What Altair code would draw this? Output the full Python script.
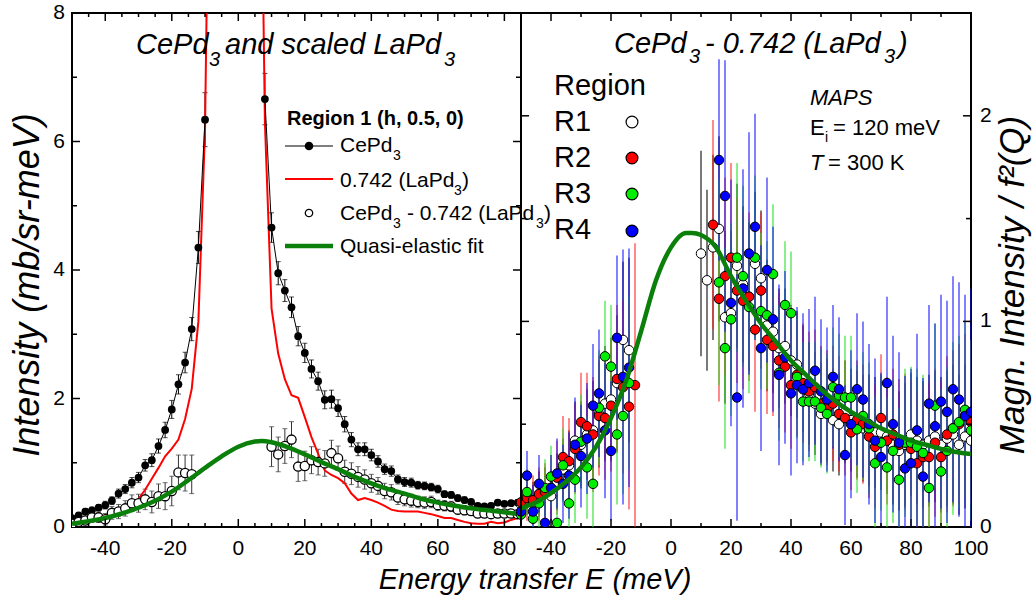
import altair as alt
import pandas as pd

FONT = "Liberation Sans"
W_LEFT, W, H = 449, 899, 514

# ---------------- left panel: CePd3 and scaled LaPd3 ----------------
CE_X_LEFT = list(range(-50, -9, 2))
CE_Y_LEFT = [0.14, 0.18, 0.24, 0.26, 0.30, 0.34, 0.41, 0.52, 0.59, 0.69, 0.77,
             0.96, 1.04, 1.26, 1.51, 1.83, 2.22, 2.56, 3.08, 4.35, 6.34]
CE_E_LEFT = [0.04, 0.04, 0.05, 0.05, 0.05, 0.06, 0.06, 0.07, 0.07, 0.08, 0.08,
             0.09, 0.10, 0.11, 0.12, 0.14, 0.15, 0.16, 0.18, 0.25, 0.42]
CE_X_RIGHT = list(range(8, 85, 2))
CE_Y_RIGHT = [6.66, 4.66, 3.95, 3.68, 3.42, 2.97, 2.71, 2.46, 2.27, 1.98, 1.99, 1.85, 1.60,
              1.36, 1.21, 1.21, 1.12, 1.02, 0.90, 0.87, 0.74, 0.70, 0.69, 0.65, 0.64, 0.62,
              0.59, 0.51, 0.50, 0.45, 0.42, 0.39, 0.33, 0.32, 0.33, 0.38, 0.36, 0.37, 0.38]
CE_E_RIGHT = [0.40, 0.23, 0.18, 0.17, 0.16, 0.15, 0.15, 0.14, 0.14, 0.14, 0.14, 0.13, 0.12,
              0.11, 0.10, 0.10, 0.09, 0.09, 0.08, 0.08, 0.07, 0.07, 0.07, 0.06, 0.06, 0.06,
              0.06, 0.05, 0.05, 0.05, 0.05, 0.04, 0.04, 0.04, 0.04, 0.04, 0.04, 0.04, 0.04]

SUB_X_LEFT = list(range(-50, -13, 2))
SUB_Y_LEFT = [0.05, 0.08, 0.10, 0.15, 0.15, 0.12, 0.22, 0.24, 0.29, 0.37, 0.37, 0.43, 0.39,
              0.48, 0.48, 0.56, 0.85, 0.84, 0.82]
SUB_E_LEFT = [0.05, 0.05, 0.06, 0.07, 0.08, 0.09, 0.10, 0.11, 0.12, 0.13, 0.14, 0.16, 0.17,
              0.19, 0.21, 0.23, 0.27, 0.28, 0.30]
SUB_X_RIGHT = list(range(10, 85, 2))
SUB_Y_RIGHT = [1.25, 1.13, 1.26, 1.36, 0.94, 0.95, 1.04, 1.01, 0.99, 1.15, 1.07, 0.86, 0.83,
               0.78, 0.74, 0.68, 0.64, 0.56, 0.54, 0.46, 0.43, 0.41, 0.39, 0.38, 0.39, 0.34,
               0.33, 0.32, 0.27, 0.26, 0.25, 0.21, 0.21, 0.20, 0.21, 0.21, 0.21, 0.20]
SUB_E_RIGHT = [0.31, 0.27, 0.27, 0.28, 0.23, 0.23, 0.21, 0.20, 0.20, 0.20, 0.19, 0.18, 0.17,
               0.16, 0.15, 0.14, 0.13, 0.12, 0.12, 0.11, 0.10, 0.10, 0.09, 0.09, 0.09, 0.08,
               0.08, 0.08, 0.07, 0.07, 0.07, 0.06, 0.06, 0.06, 0.06, 0.06, 0.06, 0.06]

LA_X = list(range(-50, -9, 2)) + [-8, 6] + list(range(8, 85, 2))
LA_Y = ([0.05, 0.07, 0.09, 0.12, 0.15, 0.18, 0.21, 0.26, 0.30, 0.36, 0.44, 0.58, 0.75, 0.92,
         1.10, 1.22, 1.36, 1.68, 2.15, 3.2, 6.2]
        + [14.0, 14.0]
        + [6.3, 3.4, 2.7, 2.3, 2.05, 2.01, 1.71, 1.40, 1.14, 0.88, 0.81, 0.76, 0.68, 0.52,
           0.42, 0.45, 0.42, 0.38, 0.33, 0.27, 0.25, 0.24, 0.24, 0.24, 0.22, 0.20, 0.17,
           0.14, 0.14, 0.11, 0.08, 0.06, 0.05, 0.05, 0.08, 0.06, 0.07, 0.11, 0.14])

FIT_L_X = [-50, -45, -40, -35, -30, -25, -20, -15, -10, -5, 0, 5, 7, 10, 15, 20, 25, 30,
           35, 40, 45, 50, 55, 60, 65, 70, 75, 80, 85]
FIT_L_Y = [0.05, 0.09, 0.14, 0.21, 0.30, 0.41, 0.55, 0.73, 0.92, 1.10, 1.25, 1.33, 1.34,
           1.32, 1.24, 1.13, 1.01, 0.90, 0.78, 0.68, 0.59, 0.52, 0.44, 0.38, 0.33, 0.29,
           0.26, 0.23, 0.20]

# ---------------- right panel: CePd3 - 0.742 (LaPd3), regions ----------------
REG_X = list(range(-50, -11, 2)) + list(range(10, 101, 2))
R1_Y = ([0.11, 0.15, 0.12, 0.16, 0.17, 0.15, 0.22, 0.28, 0.30, 0.42, 0.40, 0.45, 0.47, 0.55,
         0.60, 0.62, 0.70, 0.91, 0.86, None]
        + [1.33, 1.20, 1.36, 1.45, 1.02, 1.04, 1.27, 1.18, 1.12, 1.28, 1.21, 0.98, 0.95, 0.87,
           0.88, 0.81, 0.79, 0.72, 0.65, 0.60, 0.55, 0.57, 0.52, 0.50, 0.56, 0.52, 0.50, 0.48,
           0.47, 0.46, 0.46, 0.44, 0.40, 0.37, 0.40, 0.45, 0.42, 0.40, 0.42, 0.44, 0.40, 0.43,
           0.45, 0.40, 0.44, 0.42])
R2_Y = ([0.12, 0.14, 0.13, 0.16, 0.17, 0.19, 0.24, 0.34, 0.32, 0.38, 0.51, 0.49, 0.45, 0.54,
         0.53, 0.59, 0.72, 0.68, 0.585, 0.69]
        + [None, None, 1.47, 1.11, 1.22, 1.31, 1.15, 1.10, 1.12, 0.96, 1.15, 0.91, 0.88, 0.81,
           0.78, 0.69, 0.74, 0.70, 0.66, 0.68, 0.60, 0.58, 0.60, 0.55, 0.53, 0.46, 0.52, 0.50,
           0.44, 0.39, 0.53, 0.42, 0.45, 0.40, 0.415, 0.38, 0.31, 0.34, 0.34, 0.41, 0.34, 0.45,
           0.48, 0.50, 0.54, 0.51])
R3_Y = ([0.06, 0.17, 0.04, 0.115, 0.19, 0.245, 0.02, 0.30, 0.115, 0.23, 0.415, 0.29, 0.21, 0.58,
         0.83, 0.78, 0.45, 0.54, 0.70, None]
        + [None, None, None, 1.19, 0.87, 1.01, 1.31, 1.22, 1.07, 1.31, 1.05, 1.03, 1.23, 0.75,
           1.08, 1.04, 0.73, 0.61, 0.61, 0.61, 0.58, 0.55, 0.68, 0.64, 0.63, 0.63, 0.475, 0.54,
           0.48, 0.31, 0.41, 0.29, 0.37, 0.23, 0.41, 0.41, 0.39, 0.36, 0.19, 0.59, 0.27, 0.37,
           0.48, 0.51, 0.57, 0.47])
R4_Y = ([0.075, 0.25, 0.075, 0.21, 0.02, 0.19, 0.26, 0.21, 0.25, 0.40, 0.345, 0.43, 0.59, 0.65,
         0.47, 0.37, 0.92, 0.73, 0.775, None]
        + [None, None, None, 1.785, 1.61, 1.09, 0.63, 1.16, 1.33, 1.46, 0.87, 1.25, 1.01, 0.74,
           0.825, 0.65, 0.69, 0.67, 0.70, 0.76, 0.66, 0.62, 0.73, 0.67, 0.35, 0.50, 0.67, 0.62,
           0.50, 0.42, 0.34, 0.70, 0.50, 0.41, 0.285, 0.31, 0.47, 0.245, 0.60, 0.49, 0.61, 0.56,
           0.67, 0.62, 0.54, 0.56])
R1_E = ([0.08, 0.09, 0.10, 0.11, 0.12, 0.13, 0.14, 0.15, 0.17, 0.19, 0.21, 0.22, 0.24, 0.26,
         0.28, 0.30, 0.33, 0.38, 0.45, None]
        + [0.50, 0.44, 0.45, 0.45, 0.42, 0.40, 0.40, 0.38, 0.36, 0.35, 0.33, 0.32, 0.30, 0.29,
           0.28, 0.27, 0.26, 0.26, 0.25, 0.25, 0.25, 0.25, 0.25, 0.25, 0.25, 0.25, 0.26, 0.26,
           0.27, 0.27, 0.28, 0.28, 0.29, 0.29, 0.30, 0.30, 0.31, 0.31, 0.32, 0.32, 0.33, 0.33,
           0.34, 0.34, 0.35, 0.35])
R2_E = ([0.10, 0.11, 0.12, 0.13, 0.14, 0.16, 0.18, 0.20, 0.21, 0.22, 0.24, 0.26, 0.28, 0.29,
         0.30, 0.32, 0.36, 0.42, 0.50, 0.69]
        + [None, None, 0.51, 0.50, 0.48, 0.46, 0.45, 0.43, 0.41, 0.40, 0.38, 0.36, 0.34, 0.33,
           0.32, 0.31, 0.30, 0.29, 0.29, 0.28, 0.28, 0.28, 0.28, 0.28, 0.28, 0.28, 0.29, 0.29,
           0.30, 0.30, 0.31, 0.31, 0.32, 0.32, 0.33, 0.34, 0.34, 0.35, 0.36, 0.36, 0.37, 0.38,
           0.38, 0.39, 0.40, 0.40])
R3_E = ([0.10, 0.11, 0.12, 0.13, 0.14, 0.15, 0.16, 0.18, 0.19, 0.21, 0.23, 0.25, 0.27, 0.28,
         0.27, 0.30, 0.34, 0.38, 0.42, None]
        + [None, None, None, 0.50, 0.49, 0.47, 0.46, 0.44, 0.42, 0.40, 0.38, 0.36, 0.34, 0.33,
           0.31, 0.30, 0.30, 0.29, 0.29, 0.29, 0.29, 0.29, 0.29, 0.30, 0.30, 0.30, 0.31, 0.31,
           0.32, 0.33, 0.33, 0.34, 0.35, 0.35, 0.36, 0.37, 0.38, 0.38, 0.39, 0.40, 0.40, 0.41,
           0.42, 0.42, 0.43, 0.44])
R4_E = ([0.12, 0.12, 0.13, 0.14, 0.15, 0.16, 0.17, 0.19, 0.21, 0.23, 0.25, 0.27, 0.30, 0.31,
         0.33, 0.34, 0.40, 0.62, 0.58, None]
        + [None, None, None, 0.49, 0.66, 0.60, 0.60, 0.58, 0.59, 0.55, 0.50, 0.45, 0.45, 0.44,
           0.42, 0.40, 0.38, 0.37, 0.36, 0.36, 0.35, 0.35, 0.35, 0.35, 0.34, 0.36, 0.37, 0.38,
           0.39, 0.40, 0.41, 0.42, 0.43, 0.44, 0.45, 0.46, 0.47, 0.48, 0.48, 0.50, 0.52, 0.54,
           0.55, 0.57, 0.59, 0.60])

FIT_R_X = [-50, -45, -40, -35, -30, -25, -20, -15, -10, -5, 0, 5, 7, 10, 15, 20, 25, 30, 35,
           40, 45, 50, 55, 60, 65, 70, 75, 80, 85, 90, 95, 100]
FIT_R_Y = [0.09, 0.12, 0.165, 0.22, 0.29, 0.39, 0.53, 0.71, 0.95, 1.20, 1.36, 1.43, 1.43,
           1.42, 1.36, 1.22, 1.10, 0.99, 0.90, 0.81, 0.74, 0.67, 0.61, 0.56, 0.52, 0.48,
           0.45, 0.42, 0.40, 0.38, 0.365, 0.355]

REGIONS = ["R1", "R2", "R3", "R4"]
POINT_COLORS = ["#ffffff", "#ff0000", "#00ee00", "#0000ff"]
BAR_COLORS = ["#000000", "#ff2020", "#20e020", "#1010ff"]

# ---------------- data frames ----------------
def errframe(xs, ys, es, **extra):
    assert len(xs) == len(ys) == len(es)
    d = pd.DataFrame({"x": xs, "y": ys, "e": es})
    d["lo"] = d["y"] - d["e"]
    d["hi"] = d["y"] + d["e"]
    for k, v in extra.items():
        d[k] = v
    return d

ce_df = pd.concat([errframe(CE_X_LEFT, CE_Y_LEFT, CE_E_LEFT, branch="neg"),
                   errframe(CE_X_RIGHT, CE_Y_RIGHT, CE_E_RIGHT, branch="pos")])
sub_df = pd.concat([errframe(SUB_X_LEFT, SUB_Y_LEFT, SUB_E_LEFT),
                    errframe(SUB_X_RIGHT, SUB_Y_RIGHT, SUB_E_RIGHT)])
assert len(LA_X) == len(LA_Y)
la_df = pd.DataFrame({"x": LA_X, "y": LA_Y})
fitl_df = pd.DataFrame({"x": FIT_L_X, "y": FIT_L_Y})
fitr_df = pd.DataFrame({"x": FIT_R_X, "y": FIT_R_Y})

rows = []
for reg, ys, es in zip(REGIONS, [R1_Y, R2_Y, R3_Y, R4_Y], [R1_E, R2_E, R3_E, R4_E]):
    assert len(ys) == len(REG_X) and len(es) == len(REG_X), reg
    for x, y, e in zip(REG_X, ys, es):
        if y is None or e is None:
            continue
        rows.append({"x": x, "y": y, "lo": y - e, "hi": y + e, "reg": reg})
reg_df = pd.DataFrame(rows)

# ---------------- scales ----------------
SXL = alt.Scale(domain=[-50, 85], range=[0, W_LEFT], nice=False, zero=False)
SYL = alt.Scale(domain=[0, 8], nice=False, zero=False)
SXR = alt.Scale(domain=[-50, 100], range=[W_LEFT, W], nice=False, zero=False)
SYR = alt.Scale(domain=[0, 2.5], nice=False, zero=False)


def XL(f):
    return alt.X(f, type="quantitative", scale=SXL, axis=None)


def YL(f):
    return alt.Y(f, type="quantitative", scale=SYL, axis=None)


def XR(f):
    return alt.X(f, type="quantitative", scale=SXR, axis=None)


def YR(f):
    return alt.Y(f, type="quantitative", scale=SYR, axis=None)


ONE = pd.DataFrame({"a": [0]})


def txt(s, x, y, size=21, style="normal", weight="normal", align="left",
        baseline="alphabetic", angle=0):
    return alt.Chart(ONE).mark_text(
        text=s, fontSize=size, font=FONT, fontStyle=style, fontWeight=weight,
        align=align, baseline=baseline, angle=angle, color="black"
    ).encode(x=alt.value(x), y=alt.value(y))


def ticks_x(values, X, length):
    d = pd.DataFrame({"v": values})
    b = alt.Chart(d).mark_rule(color="black", strokeWidth=1.5).encode(
        x=X("v"), y=alt.value(H), y2=alt.value(H - length))
    t = alt.Chart(d).mark_rule(color="black", strokeWidth=1.5).encode(
        x=X("v"), y=alt.value(0), y2=alt.value(length))
    return [b, t]


def ticks_y(values, Y, x0, length):
    d = pd.DataFrame({"v": values})
    return alt.Chart(d).mark_rule(color="black", strokeWidth=1.5).encode(
        y=Y("v"), x=alt.value(x0), x2=alt.value(x0 + length))


# ---------------- left panel layers ----------------
ce = alt.Chart(ce_df)
sub = alt.Chart(sub_df)
left_layers = [
    ce.mark_rule(color="black", strokeWidth=1, clip=True).encode(x=XL("x"), y=YL("lo"), y2=alt.Y2("hi")),
    ce.mark_tick(color="black", orient="horizontal", size=5, thickness=1, clip=True).encode(x=XL("x"), y=YL("lo")),
    ce.mark_tick(color="black", orient="horizontal", size=5, thickness=1, clip=True).encode(x=XL("x"), y=YL("hi")),
    sub.mark_rule(color="#333333", strokeWidth=1, clip=True).encode(x=XL("x"), y=YL("lo"), y2=alt.Y2("hi")),
    sub.mark_tick(color="#333333", orient="horizontal", size=5, thickness=1, clip=True).encode(x=XL("x"), y=YL("lo")),
    sub.mark_tick(color="#333333", orient="horizontal", size=5, thickness=1, clip=True).encode(x=XL("x"), y=YL("hi")),
    alt.Chart(la_df).mark_line(color="#ff0000", strokeWidth=2, clip=True).encode(x=XL("x"), y=YL("y")),
    ce.mark_line(color="black", strokeWidth=1, clip=True).encode(x=XL("x"), y=YL("y"), detail="branch:N"),
    ce.mark_point(filled=True, color="black", size=60, opacity=1, clip=True).encode(x=XL("x"), y=YL("y")),
    sub.mark_point(filled=True, fill="white", stroke="black", strokeWidth=1.3, size=85, opacity=1,
                   clip=True).encode(x=XL("x"), y=YL("y")),
    alt.Chart(fitl_df).mark_line(color="#0a800a", strokeWidth=4.5, interpolate="monotone",
                                 clip=True).encode(x=XL("x"), y=YL("y")),
]
left_layers += ticks_x([-40, -20, 0, 20, 40, 60, 80], XL, 8)
left_layers += ticks_x([v for v in range(-45, 85, 5) if v % 20 != 0], XL, 4)
left_layers += [
    ticks_y([2, 4, 6], YL, 0, 8), ticks_y([1, 3, 5, 7], YL, 0, 5),
    ticks_y([2, 4, 6], YL, W_LEFT, -8), ticks_y([1, 3, 5, 7], YL, W_LEFT, -5),
]
xl_lab = pd.DataFrame({"v": [-40, -20, 0, 20, 40, 60, 80]})
xl_lab["lab"] = xl_lab["v"].astype(str)
yl_lab = pd.DataFrame({"v": [0, 2, 4, 6, 8]})
yl_lab["lab"] = yl_lab["v"].astype(str)
left_layers += [
    alt.Chart(xl_lab).mark_text(fontSize=21, font=FONT, align="center", baseline="middle",
                                color="black").encode(x=XL("v"), y=alt.value(H + 22), text="lab:N"),
    alt.Chart(yl_lab).mark_text(fontSize=21, font=FONT, align="right", baseline="middle",
                                color="black").encode(y=YL("v"), x=alt.value(-7), text="lab:N"),
]
left = alt.layer(*left_layers)

# ---------------- right panel layers ----------------
reg = alt.Chart(reg_df)
right_layers = [
    reg.mark_rule(strokeWidth=1.4, opacity=0.75, clip=True).encode(
        x=XR("x"), y=YR("lo"), y2=alt.Y2("hi"),
        color=alt.Color("reg:N", scale=alt.Scale(domain=REGIONS, range=BAR_COLORS), legend=None)),
    reg.mark_point(filled=True, size=90, stroke="black", strokeWidth=1, opacity=1, clip=True).encode(
        x=XR("x"), y=YR("y"),
        fill=alt.Fill("reg:N", scale=alt.Scale(domain=REGIONS, range=POINT_COLORS), legend=None)),
    alt.Chart(fitr_df).mark_line(color="#0a800a", strokeWidth=4.5, interpolate="monotone",
                                 clip=True).encode(x=XR("x"), y=YR("y")),
]
right_layers += ticks_x([-40, -20, 0, 20, 40, 60, 80], XR, 8)
right_layers += ticks_x([-30, -10, 10, 30, 50, 70, 90], XR, 4)
right_layers += [
    ticks_y([1, 2], YR, W_LEFT, 8), ticks_y([0.5, 1.5], YR, W_LEFT, 5),
    ticks_y([1, 2], YR, W, -8), ticks_y([0.5, 1.5], YR, W, -5),
]
xr_lab = pd.DataFrame({"v": [-40, -20, 0, 20, 40, 60, 80, 100]})
xr_lab["lab"] = xr_lab["v"].astype(str)
yr_lab = pd.DataFrame({"v": [0, 1, 2]})
yr_lab["lab"] = yr_lab["v"].astype(str)
right_layers += [
    alt.Chart(xr_lab).mark_text(fontSize=21, font=FONT, align="center", baseline="middle",
                                color="black").encode(x=XR("v"), y=alt.value(H + 22), text="lab:N"),
    alt.Chart(yr_lab).mark_text(fontSize=21, font=FONT, align="left", baseline="middle",
                                color="black").encode(y=YR("v"), x=alt.value(W + 9), text="lab:N"),
]
right = alt.layer(*right_layers)

# ---------------- decorations: titles and legends ----------------
decor = [
    alt.Chart(ONE).mark_rule(color="black", strokeWidth=2).encode(
        x=alt.value(W_LEFT), y=alt.value(0), y2=alt.value(H)),
    # panel titles
    txt("CePd", 64, 41, 29, "italic"), txt("3", 137, 53, 20, "italic"),
    txt("and scaled LaPd", 153, 41, 29, "italic"), txt("3", 372, 53, 20, "italic"),
    txt("CePd", 542, 40, 29, "italic"), txt("3", 617, 50, 20, "italic"),
    txt("- 0.742 (LaPd", 633, 40, 29, "italic"), txt("3", 812, 50, 20, "italic"),
    txt(")", 826, 40, 29, "italic"),
    # left legend
    txt("Region 1 (h, 0.5, 0)", 215, 112, 20, weight="bold"),
    alt.Chart(ONE).mark_rule(color="black", strokeWidth=1).encode(
        x=alt.value(213), x2=alt.value(261), y=alt.value(133)),
    alt.Chart(ONE).mark_point(filled=True, color="black", size=75, opacity=1).encode(
        x=alt.value(237), y=alt.value(133)),
    txt("CePd", 268, 139), txt("3", 321, 147, 14),
    alt.Chart(ONE).mark_rule(color="#ff0000", strokeWidth=2).encode(
        x=alt.value(213), x2=alt.value(261), y=alt.value(166)),
    txt("0.742 (LaPd", 268, 174), txt("3", 382, 182, 14), txt(")", 390, 174),
    alt.Chart(ONE).mark_point(filled=True, fill="white", stroke="black", strokeWidth=1.3,
                              size=55, opacity=1).encode(x=alt.value(237), y=alt.value(200)),
    txt("CePd", 268, 207), txt("3", 321, 215, 14),
    txt("- 0.742 (LaPd", 335, 207), txt("3", 464, 215, 14), txt(")", 472, 207),
    alt.Chart(ONE).mark_rule(color="#0a800a", strokeWidth=4.5).encode(
        x=alt.value(213), x2=alt.value(261), y=alt.value(233)),
    txt("Quasi-elastic fit", 268, 240),
    # right legend
    txt("Region", 482, 82, 29),
    txt("R1", 482, 118, 29), txt("R2", 482, 154, 29),
    txt("R3", 482, 190, 29), txt("R4", 482, 226, 29),
]
for yy, col in zip([109, 145, 181, 218], POINT_COLORS):
    decor.append(alt.Chart(ONE).mark_point(filled=True, fill=col, stroke="black", strokeWidth=1.2,
                                           size=140, opacity=1).encode(x=alt.value(560), y=alt.value(yy)))
decor += [
    txt("MAPS", 738, 92, 22, "italic"),
    txt("E", 738, 122, 22), txt("i", 753, 129, 14), txt("= 120 meV", 761, 122, 22),
    txt("T", 738, 157, 22, "italic"), txt("= 300 K", 756, 157, 22),
    # axis titles
    txt("Energy transfer E (meV)", 463, 567, 29, "italic", align="center", baseline="middle"),
    txt("Intensity (mb/sr-meV)", -44, 272, 36, "italic", align="center", baseline="middle", angle=270),
    txt("Magn. Intensity / f\u00b2(Q)", 941, 272, 35, "italic", align="center", baseline="middle",
        angle=270),
]

chart = alt.layer(left, right, *decor).resolve_scale(
    x="independent", y="independent"
).properties(
    width=W, height=H,
    autosize=alt.AutoSizeParams(type="none"),
    padding={"left": 72, "top": 13, "right": 63, "bottom": 77},
    background="white",
).configure_view(stroke="black", strokeWidth=2)

chart.save("out.html", embed_options={"renderer": "svg", "actions": False})
